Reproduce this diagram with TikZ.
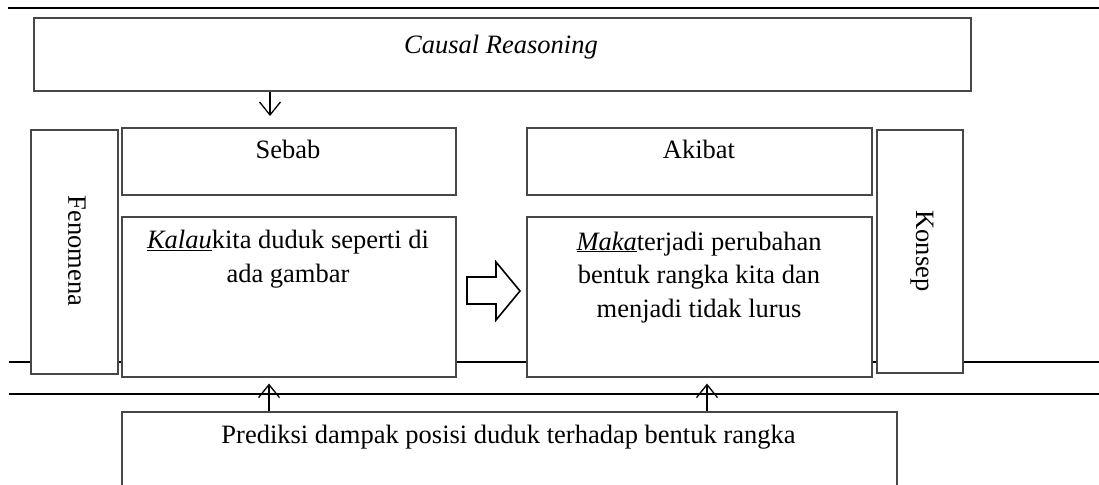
\documentclass[tikz,border=0pt]{standalone}
\usepackage{fontspec}
\setmainfont{Liberation Serif}
\usetikzlibrary{arrows.meta}
\begin{document}
\begin{tikzpicture}[x=1pt,y=-1pt,
  box/.style={draw=black!72, line width=1.6pt, fill=white, rectangle, inner sep=0pt, anchor=north west},
  txt/.style={font=\fontsize{26.5}{33.5}\selectfont, inner sep=0pt, align=center},
  barb/.style={-{Straight Barb[length=13pt,width=21pt,line width=1.3pt]}, line width=1.3pt},
  thickrule/.style={line width=2.6pt},
  thinrule/.style={line width=1.5pt},
  blockarrow/.style={draw=black, line width=1.6pt, fill=white, line join=miter}
]
\clip (0,0) rectangle (1099,484);
\useasboundingbox (0,0) rectangle (1099,484);

% rules
\coordinate (t1) at (8,8);    \coordinate (t2) at (1099,8);
\coordinate (m1) at (9,362);  \coordinate (m2) at (1099,362);
\coordinate (l1) at (9,394);  \coordinate (l2) at (1099,394);
\draw[thickrule] (t1) -- (t2);
\draw[thickrule] (m1) -- (m2);
\draw[thinrule] (l1) -- (l2);

% boxes
\node[box, minimum width=937pt, minimum height=73pt] (causal) at (33,17) {};
\node[box, minimum width=334pt, minimum height=67pt] (sebab) at (121,127) {};
\node[box, minimum width=87pt, minimum height=244pt] (fen) at (30,129) {};
\node[box, minimum width=334pt, minimum height=160pt] (kalau) at (121,216) {};
\node[box, minimum width=345pt, minimum height=67pt] (akibat) at (526,127) {};
\node[box, minimum width=345pt, minimum height=160pt] (maka) at (526,216) {};
\node[box, minimum width=86pt, minimum height=243pt] (konsep) at (876,129) {};
\node[box, minimum width=775pt, minimum height=100pt] (pred) at (121,411) {};

% texts
\node[txt, anchor=base] (causalT) at (501,54) {\textit{Causal Reasoning}};
\node[txt, anchor=base] (sebabT) at (288,158) {Sebab};
\node[txt, anchor=base] (akibatT) at (699,158) {Akibat};
\node[txt, anchor=base] (kalauT) at (288,282) {\underline{\textit{Kalau}}kita duduk seperti di\\ada gambar};
\node[txt, anchor=base] (makaT) at (699,317) {\underline{\textit{Maka}}terjadi perubahan\\bentuk rangka kita dan\\menjadi tidak lurus};
\node[txt, rotate=-90] (fenT) at (77,251) {Fenomena};
\node[txt, rotate=-90] (konsepT) at (922,251) {Konsep};
\node[txt, anchor=base] (predT) at (508.5,443) {Prediksi dampak posisi duduk terhadap bentuk rangka};

% connectors
\coordinate (ax1) at (270,0);
\coordinate (ax2) at (269,0);
\coordinate (ax3) at (707,0);
\draw[barb, shorten >=11pt] (causal.south -| ax1) -- (sebab.north -| ax1);
\draw[barb, shorten >=6pt] (pred.north -| ax2) -- (kalau.south -| ax2);
\draw[barb, shorten >=6pt] (pred.north -| ax3) -- (maka.south -| ax3);

% block arrow
\draw[blockarrow] (467,277) -- (496,277) -- (496,262) -- (520,291) -- (496,320) -- (496,304) -- (467,304) -- cycle;
\end{tikzpicture}
\end{document}
